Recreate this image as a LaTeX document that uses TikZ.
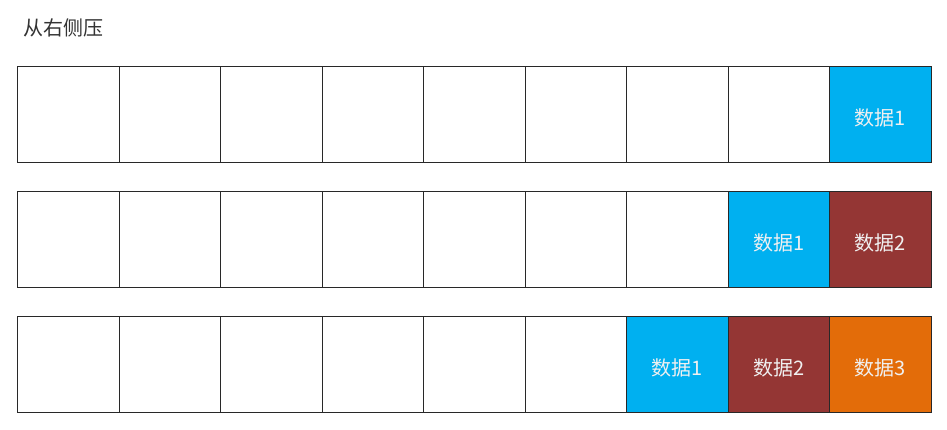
\documentclass[tikz,border=0pt]{standalone}
\usepackage{fontspec}
\setmainfont{Noto Sans CJK SC}
\usepackage{tikz}
\definecolor{darktext}{RGB}{51, 51, 51}
\definecolor{cellline}{RGB}{40, 40, 40}
\definecolor{datablue}{RGB}{0, 176, 240}
\definecolor{datared}{RGB}{148, 54, 52}
\definecolor{dataorange}{RGB}{227, 108, 9}
\usetikzlibrary{positioning}

\tikzset{
    cell/.style={draw=cellline, line width=0.9pt, minimum width=101.5pt,
                 minimum height=96.5pt, inner sep=0pt, outer sep=0pt,
                 text=white!94!black, font=\fontsize{20}{24}\selectfont},
    bluecell/.style={cell, fill=datablue, text height=24pt, text depth=2pt},
    redcell/.style={cell, fill=datared, text height=24pt, text depth=2pt},
    orangecell/.style={cell, fill=dataorange, text height=24pt, text depth=2pt}
}

\begin{document}
\begin{tikzpicture}[x=1pt, y=-1pt]
        \useasboundingbox (0,0) rectangle (947,429);
        \node[anchor=west, text=darktext, font=\fontsize{20}{24}\selectfont] (title) at (20,28) {从右侧压};

        % empty cells of each row
        \foreach \row/\ypos/\n in {1/114.25/8, 2/239.25/7, 3/364.25/6} {
            \node[cell] (r\row-c1) at (68.25,\ypos) {};
            \foreach \col [remember=\col as \prev (initially 1)] in {2,...,\n}
                \node[cell, right=0pt of r\row-c\prev] (r\row-c\col) {};
        }

        % row 1
        \node[bluecell, right=0pt of r1-c8] (r1-c9) {数据1};
        % row 2
        \node[bluecell, right=0pt of r2-c7] (r2-c8) {数据1};
        \node[redcell, right=0pt of r2-c8] (r2-c9) {数据2};
        % row 3
        \node[bluecell, right=0pt of r3-c6] (r3-c7) {数据1};
        \node[redcell, right=0pt of r3-c7] (r3-c8) {数据2};
        \node[orangecell, right=0pt of r3-c8] (r3-c9) {数据3};
    \end{tikzpicture}
\end{document}
